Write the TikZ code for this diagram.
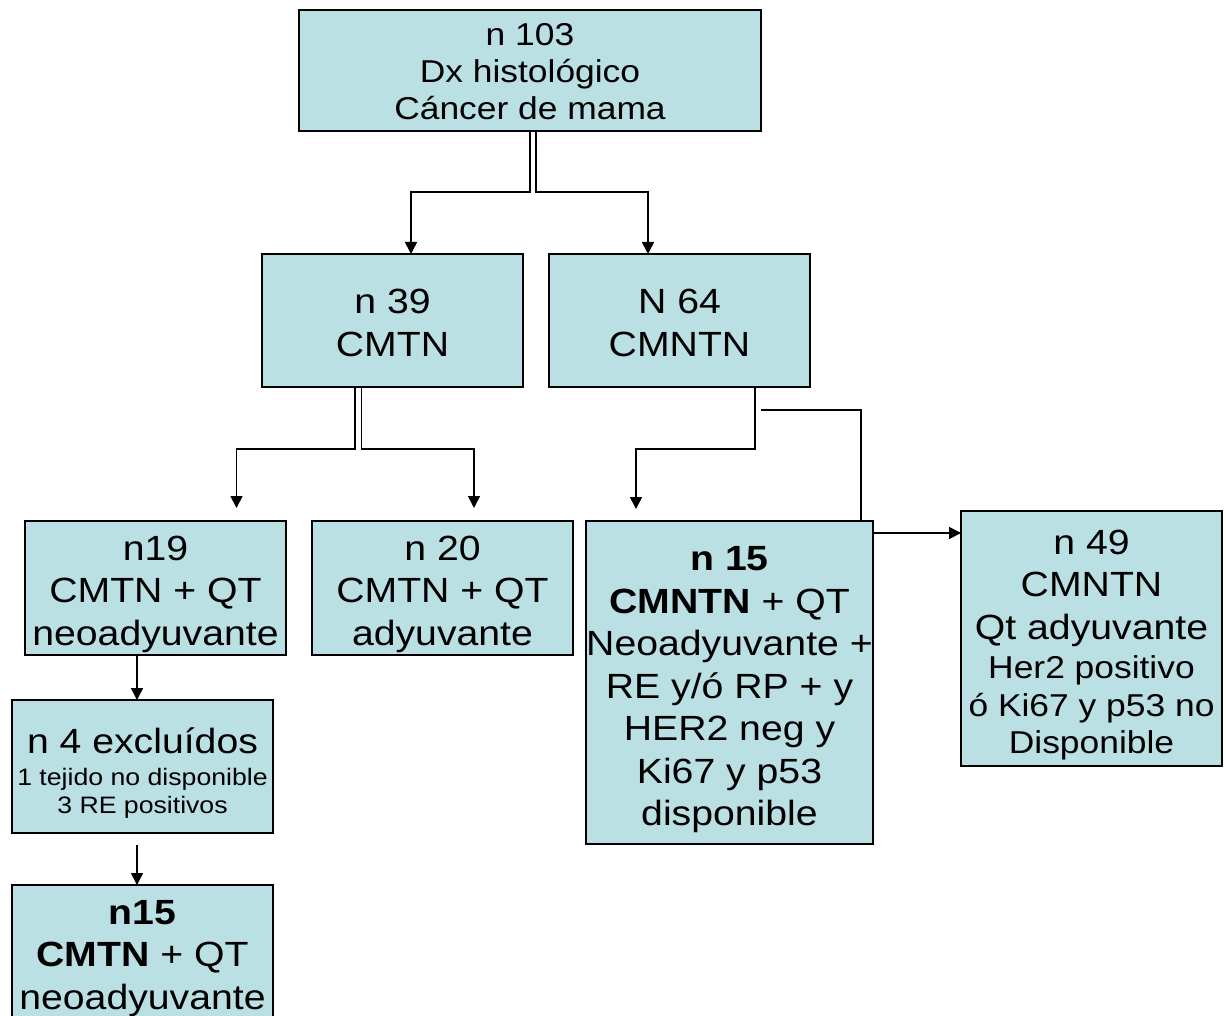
\documentclass[tikz,border=0pt]{standalone}
\usepackage{fontspec}
\setmainfont[FakeStretch=1.12]{Liberation Sans}
\usetikzlibrary{arrows.meta}
\definecolor{boxfill}{RGB}{187,224,227}
\newcommand{\topstrut}[1]{\rule{0pt}{#1}}
\tikzset{
  box/.style={draw=black, line width=1.6pt, fill=boxfill, align=center, inner sep=0pt, outer sep=0pt},
  conn/.style={draw=black, line width=1.7pt, -{Triangle[length=12pt,width=12pt]}},
  plainline/.style={draw=black, line width=1.7pt},
  bigtext/.style={font=\fontsize{35}{42.5}\selectfont},
}
\begin{document}
\begin{tikzpicture}[x=1pt,y=-1pt]
\useasboundingbox (0,0) rectangle (1226,1016);
\clip (0,0) rectangle (1226,1016);

% nodes
\node[box, minimum width=462pt, minimum height=121pt, font=\fontsize{31.6}{37}\selectfont] (top) at (530,70.5)
  {\topstrut{25pt}n 103\\Dx histológico\\Cáncer de mama};
\node[box, bigtext, minimum width=261pt, minimum height=133pt] (n39) at (392.5,320.5) {\topstrut{29pt}n 39\\CMTN};
\node[box, bigtext, minimum width=261pt, minimum height=133pt] (n64) at (679.5,320.5) {\topstrut{29pt}N 64\\CMNTN};
\node[box, bigtext, minimum width=261pt, minimum height=134pt] (n19) at (155.5,588) {\topstrut{37pt}n19\\CMTN + QT\\neoadyuvante};
\node[box, bigtext, minimum width=261pt, minimum height=134pt] (n20) at (442.5,588) {\topstrut{37pt}n 20\\CMTN + QT\\adyuvante};
\node[box, bigtext, minimum width=287pt, minimum height=323pt] (n15m) at (729.5,682.5)
  {\topstrut{39pt}{\bfseries n 15}\\{\bfseries CMNTN} + QT\\Neoadyuvante +\\RE y/ó RP + y\\HER2 neg y\\Ki67 y p53\\disponible};
\node[box, bigtext, minimum width=261pt, minimum height=255pt] (n49) at (1091.5,638.5)
  {\topstrut{37pt}n 49\\CMNTN\\Qt adyuvante\\[-3.5pt]{\fontsize{31.6}{38}\selectfont Her2 positivo}\\[-4.5pt]{\fontsize{31.6}{38}\selectfont ó Ki67 y p53 no}\\[-5.5pt]{\fontsize{31.6}{38}\selectfont Disponible}};
\node[box, minimum width=261pt, minimum height=133pt, font=\fontsize{23.8}{28}\selectfont] (n4) at (142.5,766.5)
  {\topstrut{39pt}{\fontsize{35}{42.5}\selectfont n 4 excluídos}\\[4pt]1 tejido no disponible\\3 RE positivos};
\node[box, bigtext, minimum width=261pt, minimum height=142pt] (n15b) at (142.5,956)
  {\topstrut{29pt}{\bfseries n15}\\{\bfseries CMTN} + QT\\neoadyuvante};

% connectors
\draw[conn] (top.south) -- ++(0,61) -| ([xshift=18.5pt]n39.north);
\draw[conn] ([xshift=6pt]top.south) -- ++(0,61) -| ([xshift=-31.5pt]n64.north);

\draw[conn] ([xshift=-37.5pt]n39.south) -- ++(0,62) -| ([xshift=81pt,yshift=13pt]n19.north);
\draw[conn] ([xshift=-31pt]n39.south) -- ++(0,62) -| ([xshift=31.5pt,yshift=13pt]n20.north);

\draw[conn] ([xshift=75.5pt]n64.south) -- ++(0,62) -| ([xshift=-93.5pt,yshift=12pt]n15m.north);

\coordinate (loose) at (761,410);
\draw[plainline] (loose) -| ([xshift=131.5pt]n15m.north);

\coordinate (rstart) at ([yshift=-12pt]n15m.north east);
\draw[conn] (rstart) -- (rstart -| n49.west);

\draw[conn] ([xshift=-18.5pt]n19.south) -- ([xshift=-5.5pt]n4.north);
\draw[conn] ([xshift=-5.5pt,yshift=-12pt]n4.south) -- ([xshift=-5.5pt]n15b.north);
\end{tikzpicture}
\end{document}
